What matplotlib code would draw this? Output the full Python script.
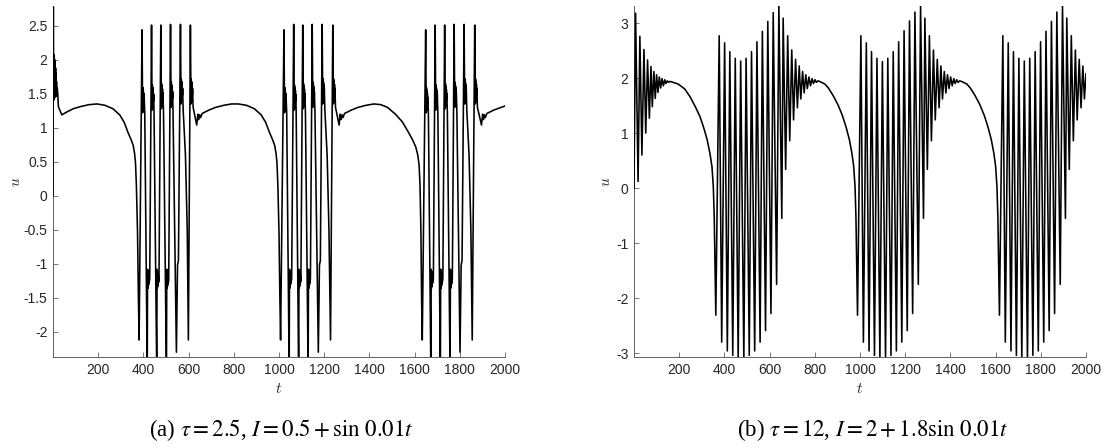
import numpy as np
import matplotlib
matplotlib.use("Agg")
import matplotlib.pyplot as plt

plt.rcParams['font.family'] = ['Liberation Sans', 'DejaVu Sans']
plt.rcParams['mathtext.fontset'] = 'stix'
plt.rcParams['axes.unicode_minus'] = False

# ---------------- panel (a): tau = 2.5, I = 0.5 + sin 0.01t ----------------
# slow parts: start transient, arcs between bursts, wiggles after bursts
a_arc_t = [0, 1.5, 2.5, 3.5, 4.5, 5.5, 6.5, 7.5, 8.5, 9.5, 10.5, 11.5, 12.5, 13.5, 14.5, 15.5, 17, 19, 21,
           24, 30, 39, 60, 90, 120, 160, 195, 230, 265, 295, 315, 332, 345, 355, 361, 365, 369, 374, 378,
           620, 636, 641, 645, 649, 653, 660, 690, 720, 755, 790, 821, 856, 891, 921, 941, 958, 971,
           981, 987, 991, 995, 1000, 1004,
           1250, 1266, 1271, 1275, 1279, 1283, 1290, 1320, 1350, 1385, 1420, 1450, 1480, 1515, 1545,
           1570, 1590, 1605, 1614, 1620, 1624, 1628, 1631,
           1878, 1896, 1901, 1905, 1909, 1913, 1920, 1950, 1975, 2000]
a_arc_u = [0.0, 2.78, 1.40, 2.08, 1.42, 2.05, 1.44, 2.0, 1.45, 1.95, 1.47, 1.88, 1.48, 1.8, 1.48, 1.68, 1.46, 1.58, 1.5,
           1.31, 1.26, 1.19, 1.23, 1.28, 1.31, 1.34, 1.35, 1.33, 1.28, 1.19, 1.08, 0.93, 0.83, 0.74, 0.62, 0.49, 0.15, -0.54, -1.52,
           1.3, 1.04, 1.2, 1.12, 1.19, 1.15, 1.21, 1.26, 1.3, 1.33, 1.35, 1.35, 1.33, 1.28, 1.19, 1.08, 0.93, 0.83,
           0.74, 0.62, 0.49, 0.15, -0.54, -1.52,
           1.3, 1.04, 1.2, 1.12, 1.19, 1.15, 1.21, 1.26, 1.3, 1.33, 1.35, 1.34, 1.3, 1.2, 1.09,
           0.95, 0.83, 0.72, 0.6, 0.45, 0.15, -0.54, -1.52,
           1.3, 1.04, 1.2, 1.12, 1.19, 1.15, 1.21, 1.26, 1.29, 1.32]

a_peak_t = [394, 436, 477, 520, 564, 608, 1022, 1065, 1105, 1147, 1191, 1238,
            1649, 1691, 1733, 1775, 1819, 1866]
a_peak_u = [2.44, 2.51, 2.51, 2.52, 2.52, 2.51, 2.44, 2.52, 2.51, 2.52, 2.52, 2.51,
            2.44, 2.51, 2.51, 2.52, 2.52, 2.51]
a_trough_t = [381, 417, 459, 502, 546, 599, 1007, 1045, 1087, 1129, 1174, 1228,
              1634, 1672, 1714, 1757, 1801, 1855]
a_trough_u = [-2.12, -2.6, -2.6, -2.6, -2.3, -2.12, -2.12, -2.6, -2.6, -2.6, -2.3, -2.12,
              -2.12, -2.6, -2.6, -2.6, -2.3, -2.12]
# ends of plateaus, kinks on the way up, slow slide before the last spike
a_turn_t = [406, 428, 447, 469, 489, 512, 531, 551, 555, 576, 586, 594,
            1034, 1056, 1076, 1097, 1117, 1139, 1159, 1179, 1183, 1203, 1213, 1221,
            1661, 1683, 1703, 1725, 1745, 1767, 1787, 1806, 1810, 1831, 1841, 1849]
a_turn_u = [1.22, -1.22, 1.22, -1.22, 1.22, -1.22, 1.25, -1.02, -0.95, 1.26, 0.6, -0.5,
            1.22, -1.22, 1.22, -1.22, 1.22, -1.22, 1.25, -1.02, -0.95, 1.26, 0.6, -0.5,
            1.22, -1.22, 1.22, -1.22, 1.22, -1.22, 1.25, -1.02, -0.95, 1.26, 0.6, -0.5]
# fast ringing on the plateaus (the thick black blobs)
a_top_hi = [1.62, 1.66, 1.68, 1.70, 1.75, 1.75] * 3
a_top_jit_dt = [1.5, 2.5, 3.5, 4.5, 5.5, 6.5, 7.5, 8.5, 9.5]
a_top_jit_du = [0.0, 0.40, 0.03, 0.37, 0.07, 0.33, 0.11, 0.27, 0.17]
a_bot_jit_dt = [1.5, 2.5, 3.5, 4.5, 5.5, 6.5, 7.5, 8.5]
a_bot_jit_u = [-1.08, -1.36, -1.11, -1.33, -1.14, -1.30, -1.17, -1.27]

# ---------------- panel (b): tau = 12, I = 2 + 1.8 sin 0.01t ----------------
b_peak_t = [7, 26, 44, 60, 75, 88, 100, 112, 124, 136, 147, 159,
            377, 401, 424, 448, 472, 496, 520, 544, 568, 592, 616, 641,
            660, 680, 698, 715, 731, 746, 760, 774, 788, 801, 814,
            1004, 1028, 1051, 1075, 1099, 1123, 1147, 1171, 1195, 1219, 1243, 1268,
            1287, 1307, 1325, 1342, 1358, 1373, 1387, 1401, 1415, 1428, 1441,
            1632, 1656, 1679, 1703, 1727, 1751, 1775, 1799, 1823, 1847, 1871, 1896,
            1915, 1935, 1953, 1970, 1986]
b_peak_u = [3.18, 2.76, 2.52, 2.33, 2.21, 2.12, 2.06, 2.02, 1.99, 1.97, 1.95, 1.94,
            2.77, 2.64, 2.48, 2.36, 2.31, 2.36, 2.48, 2.66, 2.85, 3.03, 3.19, 3.31,
            3.09, 2.77, 2.51, 2.34, 2.22, 2.12, 2.06, 2.02, 1.99, 1.97, 1.95,
            2.77, 2.64, 2.48, 2.36, 2.30, 2.36, 2.48, 2.66, 2.86, 3.04, 3.20, 3.31,
            3.09, 2.77, 2.51, 2.34, 2.22, 2.12, 2.06, 2.02, 1.99, 1.97, 1.95,
            2.77, 2.64, 2.48, 2.36, 2.31, 2.36, 2.48, 2.66, 2.85, 3.03, 3.20, 3.31,
            3.09, 2.77, 2.51, 2.34, 2.22]
b_trough_t = [18, 35, 52, 68, 81, 94, 106, 118, 130, 141, 153,
              362, 388, 413, 437, 461, 486, 510, 534, 558, 582, 606, 631,
              654, 671, 689, 706, 723, 738, 753, 767, 781, 794, 807,
              989, 1015, 1040, 1064, 1088, 1113, 1137, 1161, 1185, 1209, 1233, 1258,
              1281, 1298, 1316, 1333, 1350, 1365, 1380, 1394, 1408, 1421, 1434,
              1617, 1643, 1668, 1692, 1716, 1741, 1765, 1789, 1813, 1837, 1861, 1886,
              1909, 1926, 1944, 1961, 1978, 1993]
b_trough_u = [0.12, 0.60, 1.00, 1.27, 1.48, 1.63, 1.74, 1.82, 1.86, 1.90, 1.92,
              -2.31, -2.80, -2.96, -3.04, -3.12, -3.12, -3.04, -2.96, -2.80, -2.59, -2.28, -1.75,
              -0.55, 0.34, 0.86, 1.24, 1.46, 1.62, 1.73, 1.81, 1.86, 1.90, 1.92,
              -2.31, -2.80, -2.96, -3.04, -3.12, -3.12, -3.04, -2.96, -2.80, -2.59, -2.28, -1.75,
              -0.55, 0.34, 0.86, 1.24, 1.46, 1.62, 1.73, 1.81, 1.86, 1.90, 1.92,
              -2.31, -2.80, -2.96, -3.04, -3.12, -3.12, -3.04, -2.96, -2.80, -2.59, -2.28, -1.75,
              -0.55, 0.34, 0.86, 1.24, 1.46, 1.62]
b_arc_t = [0, 171, 196, 225, 248, 270, 292, 309, 324, 336, 345, 351, 355, 358, 361,
           826, 845, 860, 880, 902, 922, 939, 953, 964, 972, 978, 982, 985, 988,
           1454, 1473, 1488, 1508, 1530, 1550, 1567, 1581, 1592, 1600, 1606, 1610, 1613, 1616,
           2000]
b_arc_u = [0.0, 1.925, 1.89, 1.80, 1.66, 1.49, 1.30, 1.09, 0.875, 0.63, 0.39, 0.02, -0.52, -1.31, -2.04,
           1.93, 1.89, 1.82, 1.69, 1.52, 1.32, 1.10, 0.88, 0.64, 0.40, 0.03, -0.52, -1.31, -2.04,
           1.93, 1.89, 1.82, 1.69, 1.52, 1.32, 1.10, 0.88, 0.64, 0.40, 0.03, -0.52, -1.31, -2.04,
           2.08]

a_yticks = [-2, -1.5, -1, -0.5, 0, 0.5, 1, 1.5, 2, 2.5]
b_yticks = [-3, -2, -1, 0, 1, 2, 3]
xticks = [200, 400, 600, 800, 1000, 1200, 1400, 1600, 1800, 2000]

#build-polylines---------------------------------------------------------------

ta = list(a_arc_t) + a_peak_t + a_trough_t + a_turn_t
ua = list(a_arc_u) + a_peak_u + a_trough_u + a_turn_u
for tp, hi in zip(a_peak_t, a_top_hi):
    for dt, du in zip(a_top_jit_dt, a_top_jit_du):
        ta.append(tp + dt)
        ua.append(hi - du)
for tt, ut in zip(a_trough_t, a_trough_u):
    if ut < -2.5:
        for dt, uj in zip(a_bot_jit_dt, a_bot_jit_u):
            ta.append(tt + dt)
            ua.append(uj)
ia = np.argsort(ta, kind='stable')
ta = np.array(ta)[ia]
ua = np.array(ua)[ia]

tb = b_arc_t + b_peak_t + b_trough_t
ub = b_arc_u + b_peak_u + b_trough_u
ib = np.argsort(tb, kind='stable')
tb = np.array(tb)[ib]
ub = np.array(ub)[ib]

#plot--------------------------------------------------------------------------

W, H = 1108, 447
fig = plt.figure(figsize=(W / 100, H / 100), dpi=100)


def style(ax, ylim, yticks, ylab_x):
    ax.set_xlim(0, 2000)
    ax.set_ylim(*ylim)
    ax.set_xticks(xticks)
    ax.set_xticklabels([str(v) for v in xticks])
    ax.set_yticks(yticks)
    ax.set_yticklabels([f'{v:g}' for v in yticks])
    for s in ['top', 'right']:
        ax.spines[s].set_visible(False)
    for s in ['left', 'bottom']:
        ax.spines[s].set_color('#606060')
        ax.spines[s].set_linewidth(0.7)
    ax.tick_params(direction='in', length=3.5, width=0.6, color='#606060',
                   labelsize=10, labelcolor='#262626', pad=4)
    ax.set_xlabel('$t$', math_fontfamily='cm', fontsize=11, color='#262626')
    ax.xaxis.set_label_coords(0.5, -0.072)
    ax.set_ylabel('$u$', math_fontfamily='cm', fontsize=11, color='#262626')
    ax.yaxis.set_label_coords(ylab_x, 0.5)


ax1 = fig.add_axes([53 / W, 90 / H, 452 / W, 351 / H])
ax1.plot(ta, ua, color='black', linewidth=1.15, zorder=3)
style(ax1, (-2.37, 2.79), a_yticks, -0.066)

ax2 = fig.add_axes([634 / W, 90 / H, 452 / W, 351 / H])
ax2.plot(tb, ub, color='black', linewidth=1.15, zorder=3)
style(ax2, (-3.07, 3.31), b_yticks, -0.047)

fig.text(281 / W, 17 / H, r'(a) $\tau=2.5$, $I=0.5+\sin\,0.01t$',
         family='Liberation Serif', fontsize=16.5, ha='center', va='center')
fig.text(873 / W, 17 / H, r'(b) $\tau=12$, $I=2+1.8\sin\,0.01t$',
         family='Liberation Serif', fontsize=16.5, ha='center', va='center')

fig.savefig('out.png', dpi=100)
